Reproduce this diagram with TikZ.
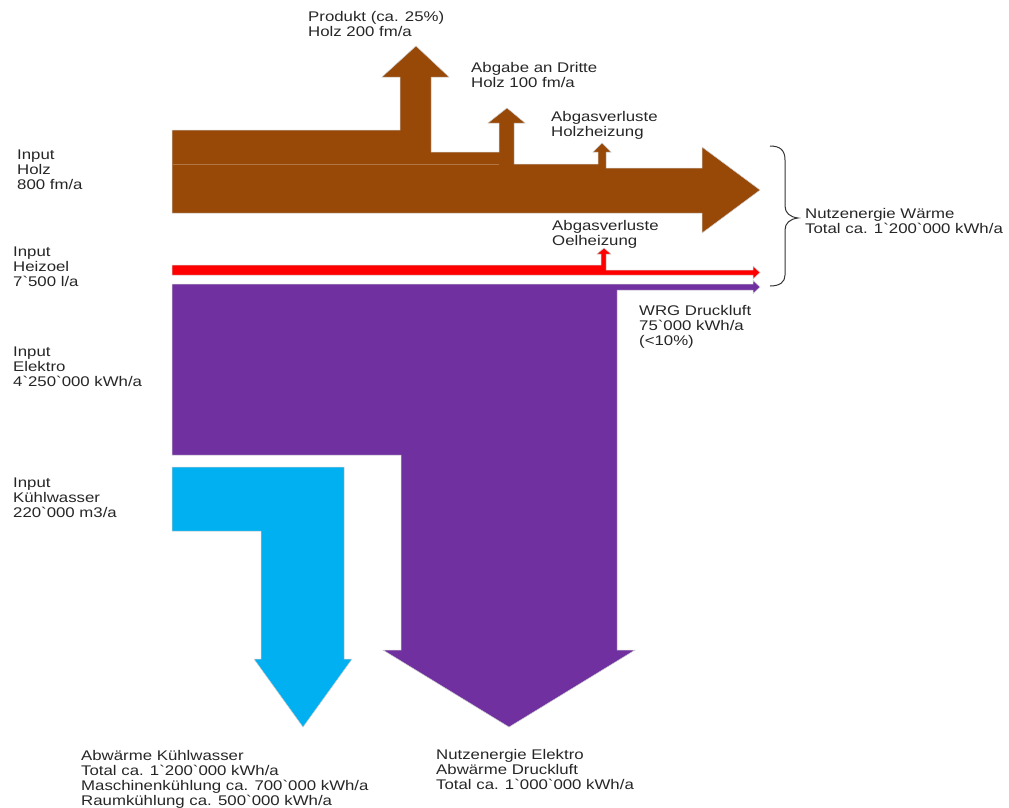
\documentclass[tikz,border=0pt]{standalone}
\usepackage{fontspec}
\setmainfont{Liberation Sans}[Ligatures=TeXOff, FakeStretch=1.2]
\definecolor{holz}{HTML}{984807}
\definecolor{oel}{HTML}{FF0000}
\definecolor{elektro}{HTML}{7030A0}
\definecolor{wasser}{HTML}{00B0F0}
\begin{document}
\begin{tikzpicture}[x=1pt,y=-1pt,
  flow/.style={draw=gray!40, line width=0.5pt, line join=miter},
  lbl/.style={anchor=north west, inner sep=0pt, align=left,
    font=\fontsize{14}{15}\selectfont, text=black!85}]
\useasboundingbox (0,0) rectangle (1009,807);

% Holz
\filldraw[flow, fill=holz] (172,130) -- (400,130) -- (400,77) -- (382,77) -- (416,46) -- (449,77) -- (431,77)
  -- (431,152) -- (499,152) -- (499,123) -- (488,123) -- (507,108) -- (525,123) -- (514,123)
  -- (514,164) -- (598,164) -- (598,152) -- (593,152) -- (602,143) -- (611,152) -- (606,152)
  -- (606,168) -- (702,168) -- (702,147) -- (760,190) -- (702,233) -- (702,213) -- (172,213) -- cycle;
\draw[holz!75!white, line width=0.6pt] (172.5,164) -- (499,164);

% Heizoel
\filldraw[flow, fill=oel] (172,265) -- (601,265) -- (601,254) -- (597,254) -- (604,248) -- (611,254) -- (606,254)
  -- (606,270) -- (753,270) -- (753,266) -- (760,272.5) -- (753,279) -- (753,275) -- (172,275) -- cycle;

% Elektro
\filldraw[flow, fill=elektro] (172,284) -- (753,284) -- (753,280.5) -- (760,287) -- (753,293.5) -- (753,290)
  -- (617,290) -- (617,650) -- (635,650) -- (509,727) -- (383,650) -- (401,650) -- (401,455) -- (172,455) -- cycle;

% Kuehlwasser
\filldraw[flow, fill=wasser] (172,467) -- (344,467) -- (344,659) -- (352,659) -- (303,727) -- (254,659)
  -- (261,659) -- (261,531) -- (172,531) -- cycle;

% Brace
\draw[line width=1pt, black!80] (770,146) .. controls (780,146) and (785,150) .. (785,160) -- (785,206)
  .. controls (785,213) and (790,217) .. (798,218) .. controls (790,219) and (785,223) .. (785,230)
  -- (785,275) .. controls (785,282) and (780,286) .. (770,286);

% Labels
\node[lbl] (produkt) at (308,11) {Produkt (ca. 25\%)\\Holz 200 fm/a};
\node[lbl] (dritte) at (471,62) {Abgabe an Dritte\\Holz 100 fm/a};
\node[lbl] (abgasholz) at (551,111) {Abgasverluste\\Holzheizung};
\node[lbl] (inholz) at (17,150) {Input\\Holz\\800 fm/a};
\node[lbl] (inoel) at (13,247) {Input\\Heizoel\\7`500 l/a};
\node[lbl] (inelektro) at (13,347) {Input\\Elektro\\4`250`000 kWh/a};
\node[lbl] (inwasser) at (13,478) {Input\\Kühlwasser\\220`000 m3/a};
\node[lbl] (abgasoel) at (552,220) {Abgasverluste\\Oelheizung};
\node[lbl] (wrg) at (639,305) {WRG Druckluft\\75`000 kWh/a\\(<10\%)};
\node[lbl] (waerme) at (805,208) {Nutzenergie Wärme\\Total ca. 1`200`000 kWh/a};
\node[lbl] (abwasser) at (81,750) {Abwärme Kühlwasser\\Total ca. 1`200`000 kWh/a\\Maschinenkühlung ca. 700`000 kWh/a\\Raumkühlung ca. 500`000 kWh/a};
\node[lbl] (nutzelektro) at (436,749) {Nutzenergie Elektro\\Abwärme Druckluft\\Total ca. 1`000`000 kWh/a};
\end{tikzpicture}
\end{document}
